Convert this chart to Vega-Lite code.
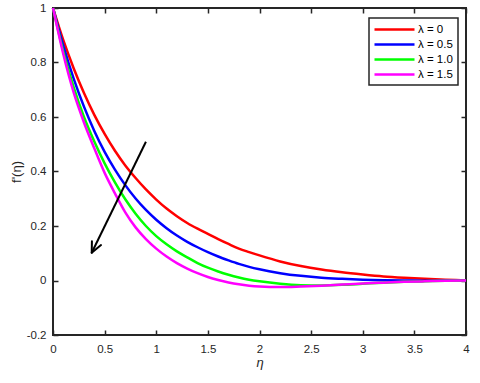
{
  "$schema": "https://vega.github.io/schema/vega-lite/v6.json",
  "width": 413,
  "height": 327,
  "autosize": {"type": "none"},
  "padding": {"left": 53, "top": 8, "right": 14, "bottom": 48},
  "background": "white",
  "config": {
    "view": {"stroke": "#262626", "strokeWidth": 2},
    "font": "Liberation Sans",
    "axis": {
      "grid": false, "domain": false, "offset": -5,
      "tickColor": "#262626", "tickWidth": 1.5, "tickSize": 5,
      "labelColor": "#262626", "labelFontSize": 11.5, "labelFont": "Liberation Sans",
      "titleColor": "#262626", "titleFontWeight": "normal", "titleFont": "Liberation Sans"
    },
    "legend": {"strokeWidth": 1.5}
  },
  "datasets": {
    "curves": [
      {"eta":0,"f":1,"lam":"λ = 0"},{"eta":0.1,"f":0.882,"lam":"λ = 0"},{"eta":0.2,"f":0.779,"lam":"λ = 0"},{"eta":0.3,"f":0.688,"lam":"λ = 0"},{"eta":0.4,"f":0.608,"lam":"λ = 0"},{"eta":0.5,"f":0.538,"lam":"λ = 0"},{"eta":0.6,"f":0.476,"lam":"λ = 0"},{"eta":0.7,"f":0.422,"lam":"λ = 0"},{"eta":0.8,"f":0.376,"lam":"λ = 0"},{"eta":0.9,"f":0.334,"lam":"λ = 0"},{"eta":1.0,"f":0.297,"lam":"λ = 0"},{"eta":1.1,"f":0.264,"lam":"λ = 0"},{"eta":1.2,"f":0.236,"lam":"λ = 0"},{"eta":1.3,"f":0.211,"lam":"λ = 0"},{"eta":1.4,"f":0.19,"lam":"λ = 0"},{"eta":1.5,"f":0.171,"lam":"λ = 0"},{"eta":1.6,"f":0.152,"lam":"λ = 0"},{"eta":1.7,"f":0.134,"lam":"λ = 0"},{"eta":1.8,"f":0.117,"lam":"λ = 0"},{"eta":1.9,"f":0.104,"lam":"λ = 0"},{"eta":2.0,"f":0.092,"lam":"λ = 0"},{"eta":2.2,"f":0.07,"lam":"λ = 0"},{"eta":2.4,"f":0.053,"lam":"λ = 0"},{"eta":2.6,"f":0.04,"lam":"λ = 0"},{"eta":2.8,"f":0.03,"lam":"λ = 0"},{"eta":3.0,"f":0.022,"lam":"λ = 0"},{"eta":3.2,"f":0.015,"lam":"λ = 0"},{"eta":3.4,"f":0.01,"lam":"λ = 0"},{"eta":3.6,"f":0.006,"lam":"λ = 0"},{"eta":3.8,"f":0.003,"lam":"λ = 0"},{"eta":4.0,"f":0,"lam":"λ = 0"},
      {"eta":0,"f":1,"lam":"λ = 0.5"},{"eta":0.1,"f":0.861,"lam":"λ = 0.5"},{"eta":0.2,"f":0.741,"lam":"λ = 0.5"},{"eta":0.3,"f":0.638,"lam":"λ = 0.5"},{"eta":0.4,"f":0.549,"lam":"λ = 0.5"},{"eta":0.5,"f":0.472,"lam":"λ = 0.5"},{"eta":0.6,"f":0.407,"lam":"λ = 0.5"},{"eta":0.7,"f":0.35,"lam":"λ = 0.5"},{"eta":0.8,"f":0.301,"lam":"λ = 0.5"},{"eta":0.9,"f":0.259,"lam":"λ = 0.5"},{"eta":1.0,"f":0.223,"lam":"λ = 0.5"},{"eta":1.1,"f":0.192,"lam":"λ = 0.5"},{"eta":1.2,"f":0.165,"lam":"λ = 0.5"},{"eta":1.3,"f":0.142,"lam":"λ = 0.5"},{"eta":1.4,"f":0.122,"lam":"λ = 0.5"},{"eta":1.5,"f":0.104,"lam":"λ = 0.5"},{"eta":1.6,"f":0.088,"lam":"λ = 0.5"},{"eta":1.7,"f":0.074,"lam":"λ = 0.5"},{"eta":1.8,"f":0.061,"lam":"λ = 0.5"},{"eta":1.9,"f":0.05,"lam":"λ = 0.5"},{"eta":2.0,"f":0.041,"lam":"λ = 0.5"},{"eta":2.2,"f":0.027,"lam":"λ = 0.5"},{"eta":2.4,"f":0.017,"lam":"λ = 0.5"},{"eta":2.6,"f":0.01,"lam":"λ = 0.5"},{"eta":2.8,"f":0.006,"lam":"λ = 0.5"},{"eta":3.0,"f":0.003,"lam":"λ = 0.5"},{"eta":3.2,"f":0.001,"lam":"λ = 0.5"},{"eta":3.4,"f":0,"lam":"λ = 0.5"},{"eta":3.6,"f":-0.001,"lam":"λ = 0.5"},{"eta":3.8,"f":0,"lam":"λ = 0.5"},{"eta":4.0,"f":0,"lam":"λ = 0.5"},
      {"eta":0,"f":1,"lam":"λ = 1.0"},{"eta":0.1,"f":0.84,"lam":"λ = 1.0"},{"eta":0.2,"f":0.71,"lam":"λ = 1.0"},{"eta":0.3,"f":0.6,"lam":"λ = 1.0"},{"eta":0.4,"f":0.51,"lam":"λ = 1.0"},{"eta":0.5,"f":0.43,"lam":"λ = 1.0"},{"eta":0.6,"f":0.36,"lam":"λ = 1.0"},{"eta":0.7,"f":0.298,"lam":"λ = 1.0"},{"eta":0.8,"f":0.245,"lam":"λ = 1.0"},{"eta":0.9,"f":0.2,"lam":"λ = 1.0"},{"eta":1.0,"f":0.163,"lam":"λ = 1.0"},{"eta":1.1,"f":0.133,"lam":"λ = 1.0"},{"eta":1.2,"f":0.107,"lam":"λ = 1.0"},{"eta":1.3,"f":0.085,"lam":"λ = 1.0"},{"eta":1.4,"f":0.064,"lam":"λ = 1.0"},{"eta":1.5,"f":0.047,"lam":"λ = 1.0"},{"eta":1.6,"f":0.033,"lam":"λ = 1.0"},{"eta":1.7,"f":0.021,"lam":"λ = 1.0"},{"eta":1.8,"f":0.011,"lam":"λ = 1.0"},{"eta":1.9,"f":0.003,"lam":"λ = 1.0"},{"eta":2.0,"f":-0.003,"lam":"λ = 1.0"},{"eta":2.2,"f":-0.012,"lam":"λ = 1.0"},{"eta":2.4,"f":-0.017,"lam":"λ = 1.0"},{"eta":2.6,"f":-0.018,"lam":"λ = 1.0"},{"eta":2.8,"f":-0.016,"lam":"λ = 1.0"},{"eta":3.0,"f":-0.012,"lam":"λ = 1.0"},{"eta":3.2,"f":-0.008,"lam":"λ = 1.0"},{"eta":3.4,"f":-0.005,"lam":"λ = 1.0"},{"eta":3.6,"f":-0.003,"lam":"λ = 1.0"},{"eta":3.8,"f":-0.001,"lam":"λ = 1.0"},{"eta":4.0,"f":0,"lam":"λ = 1.0"},
      {"eta":0,"f":1,"lam":"λ = 1.5"},{"eta":0.1,"f":0.83,"lam":"λ = 1.5"},{"eta":0.2,"f":0.69,"lam":"λ = 1.5"},{"eta":0.3,"f":0.58,"lam":"λ = 1.5"},{"eta":0.4,"f":0.485,"lam":"λ = 1.5"},{"eta":0.5,"f":0.395,"lam":"λ = 1.5"},{"eta":0.6,"f":0.32,"lam":"λ = 1.5"},{"eta":0.7,"f":0.25,"lam":"λ = 1.5"},{"eta":0.8,"f":0.195,"lam":"λ = 1.5"},{"eta":0.9,"f":0.152,"lam":"λ = 1.5"},{"eta":1.0,"f":0.117,"lam":"λ = 1.5"},{"eta":1.1,"f":0.088,"lam":"λ = 1.5"},{"eta":1.2,"f":0.064,"lam":"λ = 1.5"},{"eta":1.3,"f":0.044,"lam":"λ = 1.5"},{"eta":1.4,"f":0.027,"lam":"λ = 1.5"},{"eta":1.5,"f":0.013,"lam":"λ = 1.5"},{"eta":1.6,"f":0.002,"lam":"λ = 1.5"},{"eta":1.7,"f":-0.007,"lam":"λ = 1.5"},{"eta":1.8,"f":-0.014,"lam":"λ = 1.5"},{"eta":1.9,"f":-0.019,"lam":"λ = 1.5"},{"eta":2.0,"f":-0.022,"lam":"λ = 1.5"},{"eta":2.2,"f":-0.024,"lam":"λ = 1.5"},{"eta":2.4,"f":-0.022,"lam":"λ = 1.5"},{"eta":2.6,"f":-0.019,"lam":"λ = 1.5"},{"eta":2.8,"f":-0.015,"lam":"λ = 1.5"},{"eta":3.0,"f":-0.011,"lam":"λ = 1.5"},{"eta":3.2,"f":-0.008,"lam":"λ = 1.5"},{"eta":3.4,"f":-0.005,"lam":"λ = 1.5"},{"eta":3.6,"f":-0.003,"lam":"λ = 1.5"},{"eta":3.8,"f":-0.001,"lam":"λ = 1.5"},{"eta":4.0,"f":0,"lam":"λ = 1.5"}
    ],
    "shaft": [{"x": 0.9, "y": 0.509, "x2": 0.375, "y2": 0.102}],
    "head": [
      {"x": 0.375, "y": 0.102, "x2": 0.465, "y2": 0.13},
      {"x": 0.375, "y": 0.102, "x2": 0.377, "y2": 0.144}
    ]
  },
  "layer": [
    {
      "data": {"name": "curves"},
      "mark": {"type": "line", "strokeWidth": 2.5, "interpolate": "monotone"},
      "encoding": {
        "x": {"field": "eta", "type": "quantitative",
              "scale": {"domain": [0, 4], "nice": false, "zero": false},
              "axis": {"orient": "bottom", "title": "η", "titleFontStyle": "italic", "titleFontSize": 13,
                       "values": [0, 0.5, 1, 1.5, 2, 2.5, 3, 3.5, 4], "labelExpr": "'' + datum.value",
                       "labelPadding": 8, "titlePadding": 2, "labelFlush": false}},
        "y": {"field": "f", "type": "quantitative",
              "scale": {"domain": [-0.2, 1], "nice": false, "zero": false},
              "axis": {"orient": "left", "title": "f'(η)", "titleFontSize": 13,
                       "values": [-0.2, 0, 0.2, 0.4, 0.6, 0.8, 1], "labelExpr": "'' + datum.value",
                       "labelPadding": 7, "titlePadding": 3, "labelFlush": false}},
        "color": {"field": "lam", "type": "nominal",
                  "scale": {"domain": ["λ = 0", "λ = 0.5", "λ = 1.0", "λ = 1.5"],
                            "range": ["#ff0000", "#0000ff", "#00ff00", "#ff00ff"]},
                  "legend": {"orient": "none", "legendX": 316, "legendY": 10, "title": null,
                             "symbolType": "M-1.2,0H6.8", "symbolSize": 100, "symbolStrokeWidth": 2.5,
                             "labelOffset": 31,
                             "labelFontSize": 11.5, "labelColor": "#000000", "labelFont": "Liberation Sans",
                             "strokeColor": "#262626", "fillColor": "white", "padding": 5, "rowPadding": 3}}
      }
    },
    {
      "data": {"name": "shaft"},
      "mark": {"type": "rule", "strokeWidth": 2, "color": "black"},
      "encoding": {
        "x": {"field": "x", "type": "quantitative",
              "axis": {"orient": "top", "title": null, "labels": false,
                       "values": [0, 0.5, 1, 1.5, 2, 2.5, 3, 3.5, 4]}},
        "y": {"field": "y", "type": "quantitative",
              "axis": {"orient": "right", "title": null, "labels": false,
                       "values": [-0.2, 0, 0.2, 0.4, 0.6, 0.8, 1]}},
        "x2": {"field": "x2"},
        "y2": {"field": "y2"}
      }
    },
    {
      "data": {"name": "head"},
      "mark": {"type": "rule", "strokeWidth": 2, "color": "black", "strokeCap": "round"},
      "encoding": {
        "x": {"field": "x", "type": "quantitative", "axis": null},
        "y": {"field": "y", "type": "quantitative", "axis": null},
        "x2": {"field": "x2"},
        "y2": {"field": "y2"}
      }
    }
  ],
  "resolve": {"axis": {"x": "independent", "y": "independent"}}
}
